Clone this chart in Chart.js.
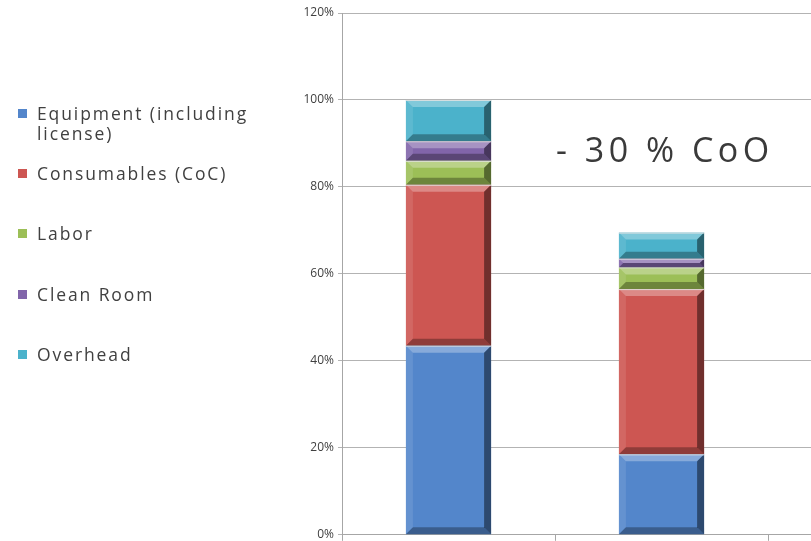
<!DOCTYPE html>
<html>
<head>
<meta charset="utf-8">
<script src="https://cdn.jsdelivr.net/npm/chart.js@4.4.1/dist/chart.umd.min.js"></script>
<style>
  html, body { margin: 0; padding: 0; background: #fff; overflow: hidden; }
  body { width: 811px; height: 541px; position: relative; font-family: "Open Sans", sans-serif; }
  #wrap { position: absolute; left: 0; top: 0; width: 990px; height: 546px; }
  #legend { position: absolute; left: 18px; top: 0; color: #404040; font-size: 17.5px; letter-spacing: 1.9px; }
  .item { position: absolute; left: 0; white-space: nowrap; line-height: 20px; }
  .box { position: absolute; left: 0; top: 6px; width: 9px; height: 9px; }
  .txt { position: absolute; left: 19px; top: 0; }
  #note { position: absolute; left: 556px; top: 126px; font-size: 34px; letter-spacing: 4.5px; color: #3a3a3a; white-space: nowrap; }
</style>
</head>
<body>
<div id="wrap"><canvas id="myChart"></canvas></div>
<div id="legend"></div>
<div id="note">- 30 % CoO</div>
<script>
// categories (third slot is empty, cut off at the right edge)
let categories = ['Current', 'New', ''];
let seriesNames = ['Equipment (including\nlicense)', 'Consumables (CoC)', 'Labor', 'Clean Room', 'Overhead'];
let equipment = [43.5, 18.5, null];
let consumables = [37, 38, null];
let labor = [5.5, 5, null];
let cleanRoom = [4.5, 2, null];
let overhead = [9.5, 6, null];
let colors = ['#5386cb', '#cd5652', '#9cbf57', '#8165aa', '#4bb2cb'];
let yTicks = [0, 20, 40, 60, 80, 100, 120];
let legendY = [103, 163, 223, 284, 344];

// fake the excel bevel on every bar
const bevel = {
  id: 'bevel',
  afterDatasetsDraw(chart) {
    const ctx = chart.ctx;
    chart.data.datasets.forEach((ds, i) => {
      chart.getDatasetMeta(i).data.forEach((bar, j) => {
        if (ds.data[j] == null) return;
        const l = bar.x - bar.width / 2, r = bar.x + bar.width / 2;
        const t = Math.min(bar.y, bar.base), b = Math.max(bar.y, bar.base);
        const s = Math.min(7, (b - t) / 2);
        const side = (pts, col) => {
          ctx.beginPath();
          ctx.moveTo(pts[0], pts[1]);
          for (let k = 2; k < pts.length; k += 2) ctx.lineTo(pts[k], pts[k + 1]);
          ctx.closePath();
          ctx.fillStyle = col;
          ctx.fill();
        };
        ctx.save();
        side([l, t, r, t, r - s, t + s, l + s, t + s], 'rgba(255,255,255,0.3)');
        side([l, t, l + s, t + s, l + s, b - s, l, b], 'rgba(255,255,255,0.1)');
        side([r, t, r, b, r - s, b - s, r - s, t + s], 'rgba(0,0,0,0.45)');
        side([l, b, r, b, r - s, b - s, l + s, b - s], 'rgba(0,0,0,0.3)');
        ctx.strokeStyle = 'rgba(225,225,225,0.9)';
        ctx.lineWidth = 1;
        ctx.beginPath();
        ctx.moveTo(l, t + 0.5);
        ctx.lineTo(r, t + 0.5);
        ctx.stroke();
        ctx.restore();
      });
    });
  }
};

const values = [equipment, consumables, labor, cleanRoom, overhead];
const ctx = document.getElementById('myChart').getContext('2d');
chart = new Chart(ctx, {
  type: 'bar',
  data: {
    labels: categories,
    datasets: values.map((v, i) => ({
      label: seriesNames[i],
      data: v,
      backgroundColor: colors[i],
      borderWidth: 0,
      barPercentage: 0.8,
      categoryPercentage: 0.5
    }))
  },
  options: {
    animation: false,
    responsive: true,
    maintainAspectRatio: false,
    layout: { padding: { top: 13, right: 9, bottom: 0, left: 0 } },
    plugins: { legend: { display: false }, tooltip: { enabled: false } },
    scales: {
      x: {
        stacked: true,
        offset: true,
        ticks: { display: false },
        grid: { offset: true, drawOnChartArea: false, color: '#a6a6a6', tickLength: 6 },
        border: { color: '#a6a6a6' },
        afterFit(scale) { scale.height = 6; }
      },
      y: {
        stacked: true,
        min: 0,
        max: 120,
        afterBuildTicks(scale) { scale.ticks = yTicks.map(v => ({ value: v })); },
        ticks: {
          color: '#404040',
          font: { family: 'Open Sans', size: 12 },
          padding: 4,
          callback: v => v + '%'
        },
        grid: { color: '#b3b3b3', tickLength: 4 },
        border: { color: '#a6a6a6' },
        afterFit(scale) { scale.width = 342; }
      }
    }
  },
  plugins: [bevel]
});

// legend on the left, built from the series names
const leg = document.getElementById('legend');
seriesNames.forEach((name, i) => {
  const item = document.createElement('div');
  item.className = 'item';
  item.style.top = legendY[i] + 'px';
  item.innerHTML = '<span class="box" style="background:' + colors[i] + '"></span><span class="txt"></span>';
  item.querySelector('.txt').innerText = name;
  leg.appendChild(item);
});
</script>
</body>
</html>
